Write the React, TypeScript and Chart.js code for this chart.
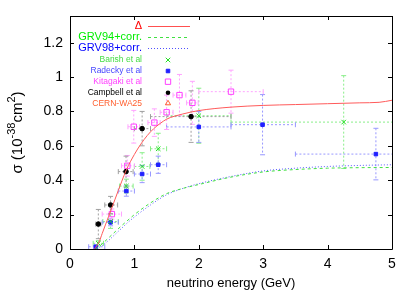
import React, { useEffect, useRef } from "react";
import { Chart, registerables } from "chart.js";
Chart.register(...registerables);

const xTicks = [0, 1, 2, 3, 4, 5];
const yTicks = [0, 0.2, 0.4, 0.6, 0.8, 1, 1.2];

const deltaE = [0.38, 0.45, 0.5, 0.55, 0.6, 0.7, 0.8, 0.875, 1.0, 1.1, 1.2, 1.3, 1.4, 1.5, 1.75, 2.0, 2.5, 3.0, 3.5, 4.0, 4.5, 4.8, 5.0];
const deltaSigma = [0, 0.04, 0.09, 0.14, 0.19, 0.29, 0.39, 0.46, 0.55, 0.61, 0.66, 0.70, 0.73, 0.755, 0.785, 0.805, 0.825, 0.835, 0.84, 0.845, 0.85, 0.853, 0.865];

const grv94E = [0.4, 0.5, 0.6, 0.7, 0.8, 0.9, 1.0, 1.25, 1.5, 1.75, 2.0, 2.5, 3.0, 3.5, 4.0, 4.5, 5.0];
const grv94Sigma = [0, 0.03, 0.065, 0.1, 0.135, 0.168, 0.2, 0.268, 0.322, 0.352, 0.375, 0.418, 0.448, 0.462, 0.47, 0.473, 0.474];

const grv98E = [0.42, 0.5, 0.6, 0.7, 0.8, 0.9, 1.0, 1.25, 1.5, 1.75, 2.0, 2.5, 3.0, 3.5, 4.0, 4.5, 5.0];
const grv98Sigma = [0, 0.02, 0.05, 0.085, 0.12, 0.155, 0.186, 0.256, 0.315, 0.352, 0.38, 0.422, 0.454, 0.47, 0.48, 0.486, 0.49];

const barishE = [0.44, 0.63, 0.875, 1.12, 1.37, 2.0, 4.25];
const barishSigma = [0.033, 0.16, 0.366, 0.48, 0.583, 0.775, 0.738];
const barishELow = [0.36, 0.51, 0.77, 1.0, 1.25, 1.5, 2.5];
const barishEHigh = [0.52, 0.75, 0.98, 1.24, 1.5, 2.5, 6.0];
const barishSigmaErr = [0.015, 0.04, 0.04, 0.08, 0.09, 0.16, 0.27];

const radeckyE = [0.4, 0.63, 0.875, 1.12, 1.37, 2.0, 2.99, 4.75];
const radeckySigma = [0.013, 0.155, 0.337, 0.436, 0.49, 0.71, 0.723, 0.552];
const radeckyELow = [0.29, 0.5, 0.75, 1.0, 1.25, 1.5, 2.5, 3.5];
const radeckyEHigh = [0.54, 0.75, 1.0, 1.25, 1.5, 2.5, 3.5, 6.0];
const radeckySigmaErr = [0.01, 0.02, 0.03, 0.05, 0.05, 0.09, 0.175, 0.15];

const kitagakiE = [0.65, 0.89, 0.99, 1.31, 1.5, 1.7, 1.9, 2.5];
const kitagakiSigma = [0.203, 0.484, 0.711, 0.735, 0.795, 0.895, 0.85, 0.915];
const kitagakiELow = [0.5, 0.8, 0.9, 1.21, 1.4, 1.6, 1.81, 2.0];
const kitagakiEHigh = [0.8, 1.0, 1.08, 1.4, 1.6, 1.8, 1.99, 3.0];
const kitagakiSigmaErr = [0.03, 0.06, 0.095, 0.08, 0.1, 0.12, 0.125, 0.125];

const campbellE = [0.44, 0.63, 0.87, 1.12, 1.88];
const campbellSigma = [0.145, 0.256, 0.45, 0.7, 0.77];
const campbellELow = [0.4, 0.54, 0.75, 1.0, 1.25];
const campbellEHigh = [0.48, 0.74, 0.98, 1.25, 2.5];
const campbellSigmaErr = [0.085, 0.05, 0.09, 0.1, 0.15];

const cernE: number[] = [];
const cernSigma: number[] = [];

const FONT = "'Liberation Sans', Arial, Helvetica, sans-serif";

type Series = {
  label: string;
  e: number[];
  s: number[];
  lo: number[];
  hi: number[];
  err: number[];
  color: string;
  textColor: string;
  barColor: string;
  style: string;
  fill: boolean;
  radius: number;
};

const series: Series[] = [
  { label: "Barish et al", e: barishE, s: barishSigma, lo: barishELow, hi: barishEHigh, err: barishSigmaErr, color: "#22e022", textColor: "#44dd44", barColor: "#88ee88", style: "crossRot", fill: false, radius: 3.2 },
  { label: "Radecky et al", e: radeckyE, s: radeckySigma, lo: radeckyELow, hi: radeckyEHigh, err: radeckySigmaErr, color: "#2020ff", textColor: "#4848ff", barColor: "#9898ff", style: "rect", fill: true, radius: 2.5 },
  { label: "Kitagaki et al", e: kitagakiE, s: kitagakiSigma, lo: kitagakiELow, hi: kitagakiEHigh, err: kitagakiSigmaErr, color: "#ff40ff", textColor: "#ff40ff", barColor: "#ffa4ff", style: "rect", fill: false, radius: 3.8 },
  { label: "Campbell et al", e: campbellE, s: campbellSigma, lo: campbellELow, hi: campbellEHigh, err: campbellSigmaErr, color: "#000000", textColor: "#000000", barColor: "#a0a0a0", style: "circle", fill: true, radius: 2.3 },
  { label: "CERN-WA25", e: cernE, s: cernSigma, lo: [], hi: [], err: [], color: "#ff6030", textColor: "#ff6030", barColor: "#ffa080", style: "triangle", fill: false, radius: 3 },
];

function drawMarker(ctx: CanvasRenderingContext2D, st: Series, x: number, y: number) {
  ctx.save();
  ctx.setLineDash([]);
  ctx.lineWidth = 1;
  ctx.strokeStyle = st.color;
  ctx.fillStyle = st.color;
  const r = st.radius;
  ctx.beginPath();
  if (st.style === "crossRot") {
    const d = r * Math.SQRT1_2;
    ctx.moveTo(x - d, y - d); ctx.lineTo(x + d, y + d);
    ctx.moveTo(x - d, y + d); ctx.lineTo(x + d, y - d);
    ctx.stroke();
  } else if (st.style === "rect") {
    const d = r * Math.SQRT1_2;
    ctx.rect(x - d, y - d, 2 * d, 2 * d);
    if (st.fill) ctx.fill();
    ctx.stroke();
  } else if (st.style === "circle") {
    ctx.arc(x, y, r, 0, Math.PI * 2);
    ctx.fill();
  } else if (st.style === "triangle") {
    ctx.moveTo(x, y - r);
    ctx.lineTo(x + r * 0.87, y + r * 0.5);
    ctx.lineTo(x - r * 0.87, y + r * 0.5);
    ctx.closePath();
    ctx.stroke();
  }
  ctx.restore();
}

const errorBarPlugin = {
  id: "errorBars",
  beforeDatasetsDraw(chart: any) {
    const { ctx, chartArea, scales } = chart;
    const xs = scales.x, ys = scales.y;
    ctx.save();
    ctx.beginPath();
    ctx.rect(chartArea.left, chartArea.top, chartArea.right - chartArea.left, chartArea.bottom - chartArea.top);
    ctx.clip();
    ctx.lineWidth = 1;
    for (const st of series) {
      ctx.strokeStyle = st.barColor;
      for (let i = 0; i < st.e.length; i++) {
        const px = xs.getPixelForValue(st.e[i]);
        const py = ys.getPixelForValue(st.s[i]);
        const pl = xs.getPixelForValue(st.lo[i]);
        const ph = xs.getPixelForValue(st.hi[i]);
        const pt = ys.getPixelForValue(st.s[i] + st.err[i]);
        const pb = ys.getPixelForValue(st.s[i] - st.err[i]);
        ctx.setLineDash([2, 2]);
        ctx.beginPath();
        ctx.moveTo(pl, py); ctx.lineTo(ph, py);
        ctx.moveTo(px, pt); ctx.lineTo(px, pb);
        ctx.stroke();
        ctx.setLineDash([]);
        ctx.beginPath();
        const c = 2.5;
        ctx.moveTo(pl, py - c); ctx.lineTo(pl, py + c);
        ctx.moveTo(ph, py - c); ctx.lineTo(ph, py + c);
        ctx.moveTo(px - c, pt); ctx.lineTo(px + c, pt);
        ctx.moveTo(px - c, pb); ctx.lineTo(px + c, pb);
        ctx.stroke();
      }
    }
    ctx.restore();
  },
};

const framePlugin = {
  id: "frame",
  afterDatasetsDraw(chart: any) {
    const { ctx, chartArea, scales } = chart;
    const { left, right, top, bottom } = chartArea;
    ctx.save();
    ctx.strokeStyle = "#000";
    ctx.lineWidth = 1;
    ctx.setLineDash([]);
    ctx.beginPath();
    ctx.rect(Math.round(left) + 0.5, Math.round(top) + 0.5, Math.round(right - left), Math.round(bottom - top));
    const tl = 4;
    for (const v of xTicks) {
      const x = Math.round(scales.x.getPixelForValue(v)) + 0.5;
      ctx.moveTo(x, bottom); ctx.lineTo(x, bottom - tl);
      ctx.moveTo(x, top); ctx.lineTo(x, top + tl);
    }
    for (const v of yTicks) {
      const y = Math.round(scales.y.getPixelForValue(v)) + 0.5;
      ctx.moveTo(left, y); ctx.lineTo(left + tl, y);
      ctx.moveTo(right, y); ctx.lineTo(right - tl, y);
    }
    ctx.stroke();

    ctx.fillStyle = "#000";
    ctx.font = `13px ${FONT}`;
    ctx.textAlign = "center";
    ctx.textBaseline = "middle";
    ctx.fillText("neutrino energy (GeV)", (left + right) / 2, 283);

    const parts: [string, boolean][] = [["σ (10", false], ["-38", true], ["cm", false], ["2", true], [")", false]];
    const big = `15px ${FONT}`, small = `11px ${FONT}`;
    let total = 0;
    for (const [t, sup] of parts) { ctx.font = sup ? small : big; total += ctx.measureText(t).width; }
    ctx.translate(22, (top + bottom) / 2);
    ctx.rotate(-Math.PI / 2);
    ctx.textAlign = "left";
    ctx.textBaseline = "alphabetic";
    let cx = -total / 2;
    for (const [t, sup] of parts) {
      ctx.font = sup ? small : big;
      ctx.fillText(t, cx, sup ? -7 : 0);
      cx += ctx.measureText(t).width;
    }
    ctx.restore();
  },
};

const lineEntries = [
  { label: "Δ", textColor: "#ff0000", color: "#ff5050", dash: [] as number[] },
  { label: "GRV94+corr.", textColor: "#00ee00", color: "#40e040", dash: [3, 3] },
  { label: "GRV98+corr.", textColor: "#0000ff", color: "#5050ff", dash: [1, 2] },
];
const lineRows = [25.7, 36.7, 47.7];
const pointRows = [60, 71, 81.7, 92.7, 103.3];

const legendPlugin = {
  id: "customLegend",
  afterDraw(chart: any) {
    const { ctx } = chart;
    ctx.save();
    ctx.textAlign = "right";
    ctx.textBaseline = "middle";
    const textRight = 142;
    lineEntries.forEach((en, i) => {
      const y = lineRows[i];
      ctx.font = `11px ${FONT}`;
      ctx.fillStyle = en.textColor;
      ctx.fillText(en.label, textRight, y);
      ctx.strokeStyle = en.color;
      ctx.lineWidth = 1;
      ctx.setLineDash(en.dash);
      ctx.beginPath();
      ctx.moveTo(148, Math.round(y) + 0.5);
      ctx.lineTo(190, Math.round(y) + 0.5);
      ctx.stroke();
    });
    ctx.setLineDash([]);
    series.forEach((st, i) => {
      const y = pointRows[i];
      ctx.font = `8.5px ${FONT}`;
      ctx.fillStyle = st.textColor;
      ctx.fillText(st.label, textRight, y);
      drawMarker(ctx, st, 168, y);
    });
    ctx.restore();
  },
};

export default function App() {
  const ref = useRef<HTMLCanvasElement>(null);
  useEffect(() => {
    const canvas = ref.current!;
    const pts = (xs: number[], ys: number[]) => xs.map((x, i) => ({ x, y: ys[i] }));
    const datasets: any[] = [
      { label: "Δ", data: pts(deltaE, deltaSigma), showLine: true, borderColor: "#ff5a5a", borderWidth: 1, pointRadius: 0, cubicInterpolationMode: "monotone", fill: false },
      { label: "GRV94+corr.", data: pts(grv94E, grv94Sigma), showLine: true, borderColor: "#44e044", borderWidth: 1, borderDash: [3, 3], pointRadius: 0, cubicInterpolationMode: "monotone", fill: false },
      { label: "GRV98+corr.", data: pts(grv98E, grv98Sigma), showLine: true, borderColor: "#5a5aff", borderWidth: 1, borderDash: [1, 2], pointRadius: 0, cubicInterpolationMode: "monotone", fill: false },
    ];
    for (const st of series) {
      datasets.push({
        label: st.label,
        data: pts(st.e, st.s),
        showLine: false,
        pointStyle: st.style,
        pointRadius: st.radius,
        pointBorderColor: st.color,
        pointBackgroundColor: st.fill ? st.color : "rgba(0,0,0,0)",
        pointBorderWidth: 1,
      });
    }
    const chart = new Chart(canvas, {
      type: "scatter",
      data: { datasets },
      options: {
        responsive: false,
        animation: false,
        devicePixelRatio: 1,
        layout: { padding: { left: 0, top: 16, right: 23, bottom: 0 } },
        plugins: { legend: { display: false }, tooltip: { enabled: false } },
        scales: {
          x: {
            type: "linear",
            min: 0,
            max: 5,
            afterBuildTicks: (s: any) => { s.ticks = xTicks.map((v) => ({ value: v })); },
            afterFit: (s: any) => { s.height = 42; },
            grid: { display: true, drawOnChartArea: false, drawTicks: false },
            border: { display: false },
            ticks: { color: "#000", font: { family: FONT, size: 14 }, padding: 7, maxRotation: 0, callback: (v: any) => String(v) },
          },
          y: {
            type: "linear",
            min: 0,
            max: 1.355,
            afterBuildTicks: (s: any) => { s.ticks = yTicks.map((v) => ({ value: v })); },
            afterFit: (s: any) => { s.width = 70; },
            grid: { display: true, drawOnChartArea: false, drawTicks: false },
            border: { display: false },
            ticks: { color: "#000", font: { family: FONT, size: 14 }, padding: 7, callback: (v: any) => String(v) },
          },
        },
      } as any,
      plugins: [errorBarPlugin, framePlugin, legendPlugin],
    });
    return () => chart.destroy();
  }, []);
  return (
    <div style={{ position: "fixed", left: 0, top: 0, width: 415, height: 291, background: "#fff" }}>
      <canvas ref={ref} width={415} height={291} style={{ width: 415, height: 291, display: "block" }} />
    </div>
  );
}
